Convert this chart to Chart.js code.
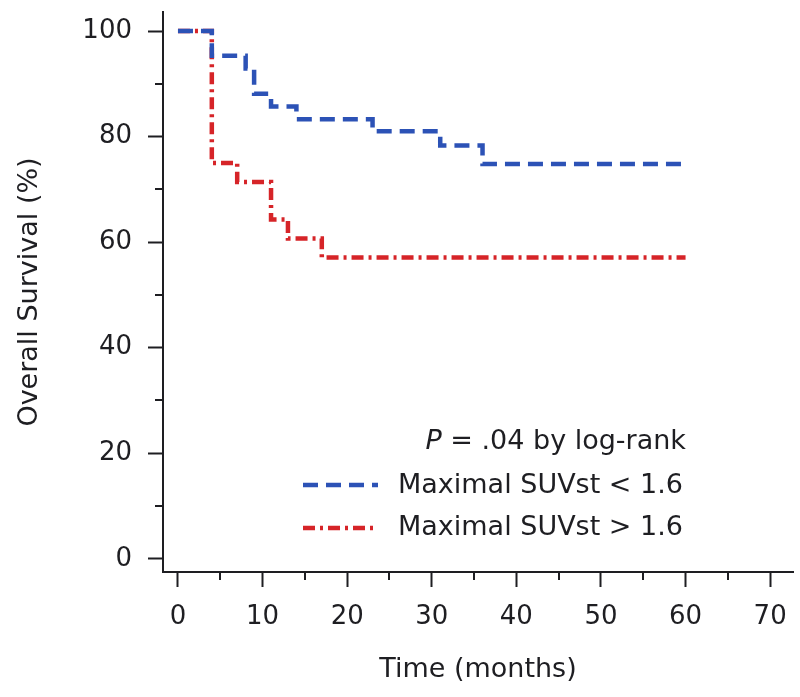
<!DOCTYPE html>
<html>
<head>
<meta charset="utf-8">
<script src="https://cdn.jsdelivr.net/npm/chart.js@4/dist/chart.umd.min.js"></script>
<style>
  html, body { margin: 0; padding: 0; background: #fff; }
  #wrap { width: 800px; height: 697px; }
</style>
</head>
<body>
<div id="wrap"><canvas id="km"></canvas></div>
<script>
// Kaplan-Meier step points (months, % surviving)
const lowMonths = [0, 4, 8, 9, 11, 14, 23, 31, 36, 60];
const lowSurvival = [100, 95.3, 92.9, 88.1, 85.7, 83.3, 81.0, 78.3, 74.8, 74.8];
const highMonths = [0, 4, 7, 11, 13, 17, 60];
const highSurvival = [100, 75.0, 71.4, 64.3, 60.7, 57.1, 57.1];

const seriesLabels = ['Maximal SUVst < 1.6', 'Maximal SUVst > 1.6'];
const xTicks = [0, 10, 20, 30, 40, 50, 60, 70];
const xMinor = [5, 15, 25, 35, 45, 55, 65];
const yTicks = [0, 20, 40, 60, 80, 100];
const yMinor = [10, 30, 50, 70, 90];

const BLUE = 'rgb(44, 82, 182)';
const RED = 'rgb(214, 36, 40)';
const INK = '#1e1e22';
const FONT = '"DejaVu Sans", sans-serif';

const toPoints = (xs, ys) => xs.map((x, i) => ({ x, y: ys[i] }));

// minor ticks + in-plot legend
const extras = {
  id: 'extras',
  afterDraw(chart) {
    const { ctx, scales: { x, y } } = chart;
    ctx.save();
    ctx.strokeStyle = INK;
    ctx.lineWidth = 2;
    ctx.beginPath();
    xMinor.forEach(v => {
      const px = Math.round(x.getPixelForValue(v));
      ctx.moveTo(px, x.top);
      ctx.lineTo(px, x.top + 8);
    });
    yMinor.forEach(v => {
      const py = Math.round(y.getPixelForValue(v));
      ctx.moveTo(y.right, py);
      ctx.lineTo(y.right - 8, py);
    });
    ctx.stroke();

    // p-value line, right aligned
    ctx.fillStyle = INK;
    ctx.textBaseline = 'alphabetic';
    const rightEdge = 686;
    const rest = ' = .04 by log-rank';
    ctx.font = '27px ' + FONT;
    const wRest = ctx.measureText(rest).width;
    ctx.font = 'italic 27px ' + FONT;
    const wP = ctx.measureText('P').width;
    ctx.fillText('P', rightEdge - wRest - wP, 449);
    ctx.font = '27px ' + FONT;
    ctx.fillText(rest, rightEdge - wRest, 449);

    const rows = [
      { y: 485, base: 493, color: BLUE, dash: [15, 8], label: seriesLabels[0] },
      { y: 528, base: 535, color: RED, dash: [12, 5, 3, 5], label: seriesLabels[1] }
    ];
    rows.forEach(r => {
      ctx.strokeStyle = r.color;
      ctx.lineWidth = 4.5;
      ctx.setLineDash(r.dash);
      ctx.beginPath();
      ctx.moveTo(303, r.y);
      ctx.lineTo(378, r.y);
      ctx.stroke();
      ctx.setLineDash([]);
      ctx.fillStyle = INK;
      ctx.fillText(r.label, 398, r.base);
    });
    ctx.restore();
  }
};

new Chart(document.getElementById('km'), {
  type: 'line',
  data: {
    datasets: [
      {
        label: seriesLabels[0],
        data: toPoints(lowMonths, lowSurvival),
        borderColor: BLUE,
        borderWidth: 4.5,
        borderDash: [15, 8],
        stepped: 'before',
        pointRadius: 0,
        fill: false
      },
      {
        label: seriesLabels[1],
        data: toPoints(highMonths, highSurvival),
        borderColor: RED,
        borderWidth: 4.5,
        borderDash: [12, 5, 3, 5],
        stepped: 'before',
        pointRadius: 0,
        fill: false
      }
    ]
  },
  options: {
    responsive: true,
    maintainAspectRatio: false,
    animation: false,
    layout: { padding: { left: 0, top: 12, right: 7, bottom: 0 } },
    plugins: {
      legend: { display: false },
      tooltip: { enabled: false }
    },
    scales: {
      x: {
        type: 'linear',
        min: -1.77,
        max: 72.7,
        afterBuildTicks: s => { s.ticks = xTicks.map(v => ({ value: v })); },
        afterFit: s => { s.height = 125; s.paddingLeft = 0; s.paddingRight = 0; },
        border: { color: INK, width: 2 },
        grid: { drawOnChartArea: false, drawTicks: true, tickLength: 15, tickColor: INK, tickWidth: 2 },
        ticks: { color: INK, font: { family: FONT, size: 26 }, padding: 15, maxRotation: 0 },
        title: { display: true, text: 'Time (months)', color: INK, font: { family: FONT, size: 27 }, padding: { top: 0, bottom: 11 } }
      },
      y: {
        type: 'linear',
        min: -2.5,
        max: 103.6,
        afterBuildTicks: s => { s.ticks = yTicks.map(v => ({ value: v })); },
        afterFit: s => { s.width = 163; s.paddingTop = 0; s.paddingBottom = 0; },
        border: { color: INK, width: 2 },
        grid: { drawOnChartArea: false, drawTicks: true, tickLength: 15, tickColor: INK, tickWidth: 2 },
        ticks: { color: INK, font: { family: FONT, size: 26 }, padding: 16 },
        title: { display: true, text: 'Overall Survival (%)', color: INK, font: { family: FONT, size: 27 }, padding: { top: 14, bottom: 0 } }
      }
    }
  },
  plugins: [extras]
});
</script>
</body>
</html>
